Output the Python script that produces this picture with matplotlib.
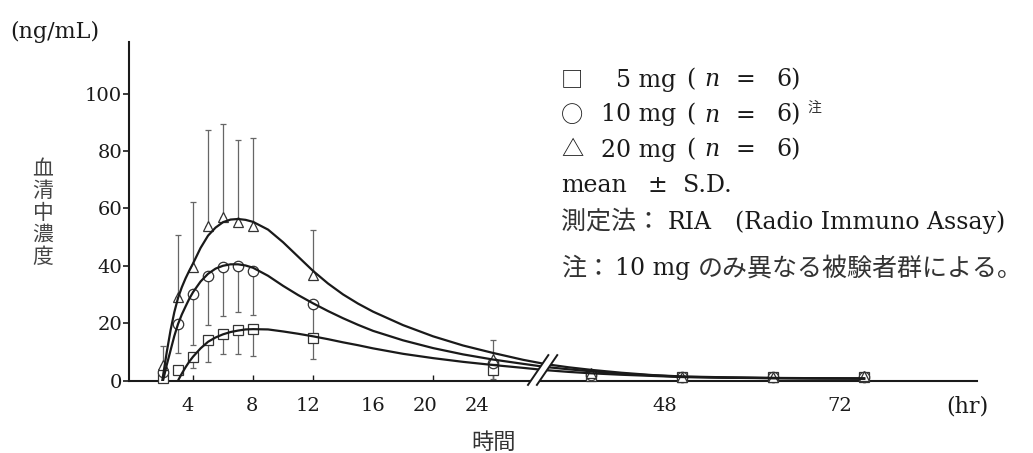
import numpy as np
import matplotlib
matplotlib.use('Agg')
import matplotlib.pyplot as plt

plt.rcParams['font.family'] = ['DejaVu Serif', 'Noto Sans CJK JP']

# sampling times (hr) and mean / S.D. (ng/mL)
hours = [2, 3, 4, 5, 6, 7, 8, 12, 24, 36, 48, 60, 72]
mean_5mg = [1.0, 3.5, 8.2, 14.2, 16.3, 17.7, 18.1, 14.8, 3.5, 1.5, 1.2, 1.2, 1.2]
sd_5mg = [0, 0, 4.0, 7.8, 7.2, 8.6, 9.7, 7.2, 3.0, 0, 0, 0, 0]
mean_10mg = [3.0, 19.7, 30.3, 36.5, 39.6, 40.0, 38.2, 26.5, 6.0, 2.0, 1.2, 1.2, 1.2]
sd_10mg = [2.0, 10.0, 18.0, 17.3, 17.0, 16.0, 15.2, 11.8, 0, 0, 0, 0, 0]
mean_20mg = [5.5, 29.0, 39.6, 53.7, 57.0, 55.4, 53.9, 36.8, 7.6, 2.5, 1.2, 1.2, 1.5]
sd_20mg = [6.7, 21.7, 22.7, 33.7, 32.5, 28.5, 30.8, 15.6, 6.4, 0, 0, 0, 0]

# fitted curves
curve_t_5mg = [3.0, 3.25, 3.5, 3.75, 4, 4.5, 5, 5.5, 6, 6.5, 7, 7.5, 8, 9, 10, 11, 12, 13, 14, 15,
               16, 18, 20, 22, 24, 27, 30, 33, 36, 40, 44, 48, 54, 60, 66, 72]
curve_v_5mg = [0, 2.4, 4.6, 6.6, 8.3, 11.2, 13.5, 15.0, 16.1, 16.9, 17.4, 17.8, 17.9, 17.8, 17.1,
               16.3, 15.4, 14.4, 13.3, 12.3, 11.2, 9.3, 7.8, 6.5, 5.4, 4.4, 3.6, 3.0, 2.5, 2.0,
               1.6, 1.2, 0.95, 0.8, 0.7, 0.65]
curve_t_10mg = [2.0, 2.25, 2.5, 2.75, 3, 3.25, 3.5, 3.75, 4, 4.5, 5, 5.5, 6, 6.5, 7, 7.5, 8, 9, 10,
                11, 12, 13, 14, 15, 16, 18, 20, 22, 24, 27, 30, 33, 36, 40, 44, 48, 54, 60, 66, 72]
curve_v_10mg = [0, 5.5, 10.5, 15.5, 19.7, 23.0, 25.8, 28.5, 30.8, 34.5, 37.2, 39.0, 40.0, 40.5,
                40.5, 40.1, 39.3, 36.5, 33.0, 29.8, 26.9, 24.2, 21.7, 19.4, 17.3, 14.0, 11.3, 9.1,
                7.3, 5.8, 4.7, 3.9, 3.2, 2.4, 1.8, 1.3, 1.0, 0.85, 0.75, 0.7]
curve_t_20mg = [1.95, 2.25, 2.5, 2.75, 3, 3.25, 3.5, 3.75, 4, 4.5, 5, 5.5, 6, 6.5, 7, 7.5, 8, 9, 10,
                11, 12, 13, 14, 15, 16, 18, 20, 22, 24, 27, 30, 33, 36, 40, 44, 48, 54, 60, 66, 72]
curve_v_20mg = [0, 10.0, 17.5, 23.8, 28.8, 32.5, 35.6, 38.3, 40.8, 46.2, 50.5, 53.3, 55.2, 56.1,
                56.3, 56.0, 55.3, 52.6, 48.2, 43.2, 38.2, 33.8, 30.0, 26.8, 24.0, 19.3, 15.4, 12.2,
                9.6, 7.2, 5.7, 4.6, 3.7, 2.7, 1.9, 1.4, 1.1, 0.9, 0.8, 0.7]

tick_hours = [4, 8, 12, 16, 20, 24]
tick_names = ['4', '8', '12', '16', '20', '24', '48', '72']
# where the labels sit in the original (slightly left of the true times)
label_at = [3.67, 7.93, 11.67, 16.0, 19.47, 22.93, 45.7, 68.8]

# broken time axis: after 25 hr the scale is compressed
TB, R = 25.0, 0.505


def fwd(t):
    t = np.asarray(t, dtype=float)
    return np.where(t <= TB, t, TB + (t - TB) * R)


def inv(u):
    u = np.asarray(u, dtype=float)
    return np.where(u <= TB, u, TB + (u - TB) / R)


W, H = 1033, 453
fig = plt.figure(figsize=(W / 100, H / 100), dpi=100)
ax = fig.add_axes([129 / W, (H - 380.5) / H, 848 / W, 338.5 / H])
ax.set_xscale('function', functions=(fwd, inv))
ax.set_xlim(-0.27, 86.9)
ax.set_ylim(0, 118)

ink = '#1a1a1a'
series = [
    (mean_5mg, sd_5mg, 's', 6.5, 'down', curve_t_5mg, curve_v_5mg),
    (mean_10mg, sd_10mg, 'o', 7.5, 'down', curve_t_10mg, curve_v_10mg),
    (mean_20mg, sd_20mg, '^', 7.5, 'up', curve_t_20mg, curve_v_20mg),
]
t = np.array(hours, dtype=float)
for mean, sd, mk, ms, side, ct, cv in series:
    mean = np.array(mean)
    sd = np.array(sd)
    keep = sd > 0
    zero = np.zeros(keep.sum())
    yerr = [zero, sd[keep]] if side == 'up' else [sd[keep], zero]
    ax.errorbar(t[keep], mean[keep], yerr=yerr, fmt='none', ecolor='#666666',
                elinewidth=0.9, capsize=2.5, capthick=0.9, zorder=2)
    ax.plot(t, mean, linestyle='none', marker=mk, markersize=ms, markerfacecolor='white',
            markeredgecolor='#333333', markeredgewidth=0.9, zorder=3, clip_on=False)
    ax.plot(ct, cv, color=ink, lw=1.6, zorder=4)

# break mark on the time axis
gap = plt.Polygon([(0.4705, -0.013), (0.481, -0.013), (0.505, 0.075), (0.494, 0.075)],
                  closed=True, transform=ax.transAxes, facecolor='white', edgecolor='none',
                  zorder=5, clip_on=False)
ax.add_patch(gap)
for x0 in (0.4705, 0.481):
    ax.plot([x0, x0 + 0.024], [-0.013, 0.075], color=ink, lw=1.4,
            transform=ax.transAxes, zorder=6, clip_on=False)

for s in ('top', 'right'):
    ax.spines[s].set_visible(False)
for s in ('left', 'bottom'):
    ax.spines[s].set_linewidth(1.5)
    ax.spines[s].set_color(ink)

ax.set_yticks([0, 20, 40, 60, 80, 100])
ax.tick_params(axis='y', direction='out', length=4, width=1.2, pad=1,
               labelsize=14, colors=ink)
ax.set_xticks(label_at, tick_names)
ax.set_xticks(tick_hours, minor=True)
ax.tick_params(axis='x', which='major', length=0, pad=12, labelsize=14, colors=ink)
ax.tick_params(axis='x', which='minor', direction='in', length=4.5, width=1.0, colors=ink)


def fx(x):
    return x / W


def fy(y):
    return 1 - y / H


cjk = 'Noto Sans CJK JP'
jcol = '#333333'
fig.text(fx(10), fy(32), '(ng/mL)', fontsize=16, color=ink, ha='left', va='center')
fig.text(fx(43), fy(213), '\n'.join('血清中濃度'), fontsize=15, color='#444444',
         family=cjk, ha='center', va='center', linespacing=1.0)
fig.text(fx(494), fy(442), '時間', fontsize=16, color=jcol,
         family=cjk, ha='center', va='center')
fig.text(fx(967), fy(407), '(hr)', fontsize=16, color=ink, ha='center', va='center')

# legend block drawn as text, as in the original
LS = 17   # latin text size in the legend block
JS = 18   # japanese text size in the legend block
doses = ['5 mg', '10 mg', '20 mg']
symbols = ['□', '○', '△']
for i, (sym, dose) in enumerate(zip(symbols, doses)):
    y = fy(80 + 35 * i)
    fig.text(fx(561), y, sym, fontsize=16, family=cjk, color=ink, ha='left', va='center')
    fig.text(fx(676), y, dose, fontsize=LS, color=ink, ha='right', va='center')
    fig.text(fx(686), y, '(', fontsize=LS, color=ink, ha='left', va='center')
    fig.text(fx(704), y, 'n', fontsize=LS, style='italic', color=ink, ha='left', va='center')
    fig.text(fx(735), y, '=', fontsize=LS, color=ink, ha='left', va='center')
    fig.text(fx(776), y, '6)', fontsize=LS, color=ink, ha='left', va='center')
fig.text(fx(807), fy(108), '注', fontsize=10, family=cjk, color=jcol, ha='left', va='center')
fig.text(fx(561), fy(185), 'mean', fontsize=LS, color=ink, ha='left', va='center')
fig.text(fx(648), fy(185), '±', fontsize=LS, color=ink, ha='left', va='center')
fig.text(fx(683), fy(185), 'S.D.', fontsize=LS, color=ink, ha='left', va='center')
fig.text(fx(561), fy(222), '測定法：', fontsize=JS, family=cjk, color=jcol,
         ha='left', va='center')
fig.text(fx(668), fy(222), 'RIA', fontsize=LS, color=ink, ha='left', va='center')
fig.text(fx(735), fy(222), '(Radio Immuno Assay)', fontsize=LS, color=ink,
         ha='left', va='center')
fig.text(fx(561), fy(269), '注：', fontsize=JS, family=cjk, color=jcol, ha='left', va='center')
fig.text(fx(615), fy(269), '10 mg', fontsize=LS, color=ink, ha='left', va='center')
fig.text(fx(698), fy(269), 'のみ異なる被験者群による。', fontsize=JS, family=cjk, color=jcol,
         ha='left', va='center')

fig.savefig('out.png', dpi=100)
